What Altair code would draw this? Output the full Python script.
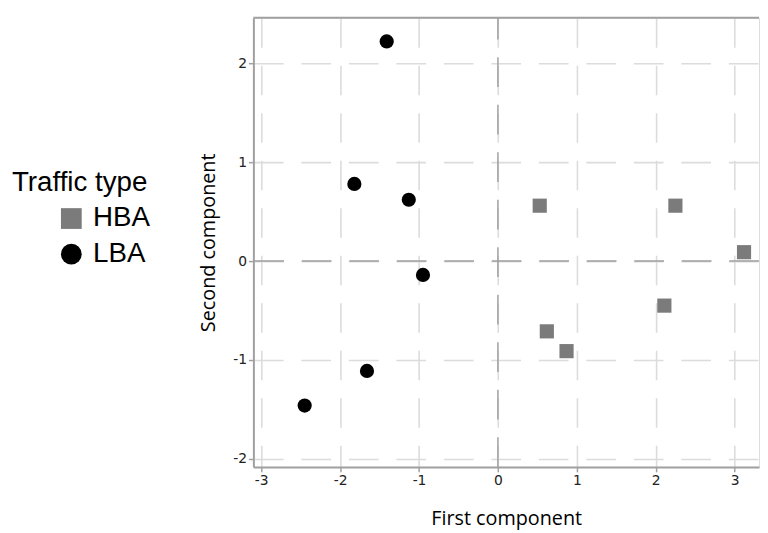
import altair as alt
import pandas as pd

# ---- data ----
types = ["HBA", "LBA"]
hba_x = [0.53, 2.25, 3.12, 0.62, 0.87, 2.11]
hba_y = [0.56, 0.56, 0.09, -0.71, -0.91, -0.45]
lba_x = [-1.41, -1.82, -1.13, -0.95, -1.66, -2.45]
lba_y = [2.22, 0.78, 0.62, -0.14, -1.11, -1.46]
x_ticks = [-3, -2, -1, 0, 1, 2, 3]
y_ticks = [-2, -1, 0, 1, 2]

df = pd.DataFrame({
    "First component": hba_x + lba_x,
    "Second component": hba_y + lba_y,
    "Traffic type": [types[0]] * len(hba_x) + [types[1]] * len(lba_x),
})
zero_df = pd.DataFrame({"First component": [0], "Second component": [0]})

W, H = 511, 454
xs = alt.Scale(domain=[-3.1, 3.31], nice=False, zero=False)
ys = alt.Scale(domain=[-2.08, 2.46], nice=False, zero=False)

AX_GRAY = "#a0a0a0"
GRID = "#dcdcdc"
DASH = [30, 18]

axis_common = dict(
    grid=True, gridColor=GRID, gridWidth=1.6, gridDash=DASH,
    domainColor=AX_GRAY, domainWidth=2, tickColor=AX_GRAY, tickSize=5, tickWidth=1.5,
    labelFont="DejaVu Sans", labelFontSize=14, labelColor="#222222", labelPadding=2,
    labelExpr="'' + datum.value",
    titleFont="Open Sans", titleFontSize=20, titleFontWeight="normal", titleColor="#000000",
)
x_axis = alt.Axis(values=x_ticks, title="First component", titlePadding=21, **axis_common)
y_axis = alt.Axis(values=y_ticks, title="Second component", titlePadding=14, **axis_common)

legend = alt.Legend(
    orient="none", legendX=-244, legendY=153, padding=0,
    title="Traffic type", titleFont="Liberation Sans", titleFontSize=28,
    titleFontWeight="normal", titleColor="#000000", titlePadding=8,
    labelFont="Liberation Sans", labelFontSize=28, labelColor="#000000",
    symbolSize=440, symbolOffset=46, labelOffset=8, rowPadding=8,
    symbolStrokeWidth=0, symbolOpacity=1,
)

points = alt.Chart(df).mark_point(filled=True, opacity=1, size=205).encode(
    x=alt.X("First component:Q", scale=xs, axis=x_axis),
    y=alt.Y("Second component:Q", scale=ys, axis=y_axis),
    color=alt.Color("Traffic type:N",
                    scale=alt.Scale(domain=types, range=["#7b7b7b", "#000000"]),
                    legend=legend),
    shape=alt.Shape("Traffic type:N",
                    scale=alt.Scale(domain=types, range=["square", "circle"]),
                    legend=legend),
)

hzero = alt.Chart(zero_df).mark_rule(color=AX_GRAY, strokeWidth=1.5, strokeDash=DASH).encode(
    y=alt.Y("Second component:Q", scale=ys, axis=y_axis)
)
vzero = alt.Chart(zero_df).mark_rule(color=AX_GRAY, strokeWidth=1.5, strokeDash=DASH).encode(
    x=alt.X("First component:Q", scale=xs, axis=x_axis), y=alt.value(H), y2=alt.value(0)
)
top_border = alt.Chart(zero_df).mark_rule(color=AX_GRAY, strokeWidth=2).encode(
    y=alt.value(0)
)

chart = alt.layer(hzero, vzero, top_border, points).properties(
    width=W, height=H,
    autosize=alt.AutoSizeParams(type="none"),
    padding={"left": 248, "top": 7, "right": 1, "bottom": 63},
).configure_view(stroke=None).configure(background="white")

chart.save("out.html", embed_options={"renderer": "svg", "actions": False})
